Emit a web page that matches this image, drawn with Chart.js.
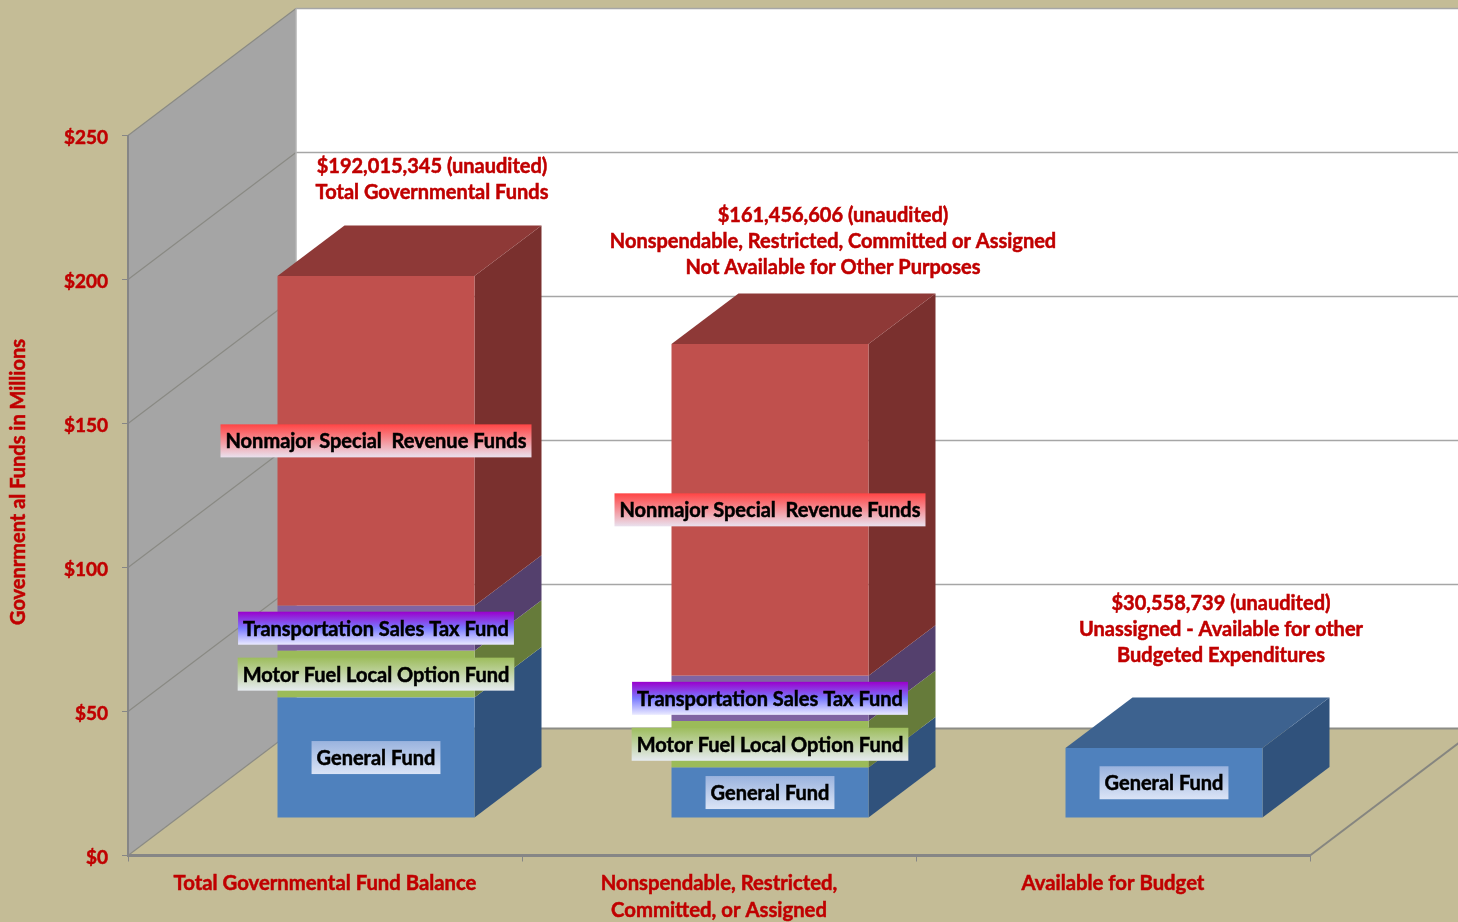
<!DOCTYPE html>
<html lang="en">
<head>
  <meta charset="UTF-8">
  <title>Governmental Funds</title>
  <script src="https://cdn.jsdelivr.net/npm/chart.js"></script>
  <style>
    html, body { margin: 0; padding: 0; background: #c4bc96; overflow: hidden; }
    canvas { display: block; }
  </style>
</head>
<body>
<canvas id="fundsChart" width="1458" height="922"></canvas>

<script>
const categories = ['Total Governmental Fund Balance', ['Nonspendable, Restricted,', 'Committed, or Assigned'], 'Available for Budget'];
const yTicks = [0, 50, 100, 150, 200, 250];
const generalFund = [41.8, 17.5, 24.3];
const motorFuel = [16.3, 16.2, null];
const transportation = [15.6, 15.7, null];
const nonmajor = [114.5, 115.2, null];
const seriesNames = ['General Fund', 'Motor Fuel Local Option Fund', 'Transportation Sales Tax Fund', 'Nonmajor Special  Revenue Funds'];
const yTitle = 'Govenrment al Funds in Millions';
const totalNotes = [
  ['$192,015,345 (unaudited)', 'Total Governmental Funds'],
  ['$161,456,606 (unaudited)', 'Nonspendable, Restricted, Committed or Assigned', 'Not Available for Other Purposes'],
  ['$30,558,739 (unaudited)', 'Unassigned - Available for other', 'Budgeted Expenditures']
];

const RED = '#c00000';
const FONT = 'Lato, sans-serif';
// 3D offsets: wall depth, bar shift from the front plane, bar depth
const WALL = { x: 168, y: 127 };
const SHIFT = { x: 51, y: 37.5 };
const BAR = { x: 67, y: 50.5 };
const faces = [
  { front: '#4f81bd', side: '#30527c', top: '#3d628f', label: ['#9ab3de', '#dbe4f6'] },
  { front: '#9bbb59', side: '#667b3a', top: '#778f45', label: ['#9dbd5c', '#e6ebf0'] },
  { front: '#8064a2', side: '#54406d', top: '#634d7f', label: ['#9a00cc', '#7a7aff', '#eaeaff'] },
  { front: '#c0504d', side: '#7a302e', top: '#8e3937', label: ['#ff4444', '#e9e1ee'] }
];
const notePos = [[432, 167], [833, 216], [1221, 604]];

function poly(ctx, pts, fill) {
  ctx.beginPath();
  pts.forEach((p, i) => i ? ctx.lineTo(p[0], p[1]) : ctx.moveTo(p[0], p[1]));
  ctx.closePath();
  ctx.fillStyle = fill;
  ctx.fill();
}

function line(ctx, x1, y1, x2, y2, color, width) {
  ctx.beginPath();
  ctx.moveTo(x1, y1);
  ctx.lineTo(x2, y2);
  ctx.strokeStyle = color;
  ctx.lineWidth = width;
  ctx.stroke();
}

function boldText(ctx, text, x, y, color) {
  ctx.fillStyle = color;
  ctx.strokeStyle = color;
  ctx.lineWidth = 0.5;
  ctx.fillText(text, x, y);
  ctx.strokeText(text, x, y);
}

const box3d = {
  id: 'box3d',
  // walls and floor, taken from the value scale
  beforeDraw(chart) {
    const { ctx, chartArea: a, scales: { y } } = chart;
    const y0 = y.getPixelForValue(0), yMax = y.getPixelForValue(250);
    ctx.save();
    poly(ctx, [[a.left + WALL.x, yMax - WALL.y], [1458, yMax - WALL.y], [1458, y0 - WALL.y], [a.left + WALL.x, y0 - WALL.y]], '#ffffff');
    poly(ctx, [[a.left, yMax], [a.left + WALL.x, yMax - WALL.y], [a.left + WALL.x, y0 - WALL.y], [a.left, y0]], '#a5a5a5');
    poly(ctx, [[a.left, y0], [a.left + WALL.x, y0 - WALL.y], [a.right + WALL.x, y0 - WALL.y], [a.right, y0]], '#c4bc96');
    y.ticks.forEach(t => {
      const py = y.getPixelForValue(t.value);
      line(ctx, a.left, py, a.left + WALL.x, py - WALL.y, '#8a8a84', 1.2);
      line(ctx, a.left + WALL.x, py - WALL.y, 1458, py - WALL.y, t.value === 0 ? '#8c8c86' : '#a6a6a6', t.value === 0 ? 2 : 1.5);
    });
    line(ctx, a.left + WALL.x, yMax - WALL.y, a.left + WALL.x, y0 - WALL.y, '#b4b4b4', 1.5);
    line(ctx, a.right, y0, a.right + WALL.x, y0 - WALL.y, '#868680', 2);
    ctx.restore();
  },
  beforeDatasetsDraw(chart) {
    const ctx = chart.ctx;
    ctx.save();
    ctx.translate(SHIFT.x, -SHIFT.y);
    chart.data.datasets.forEach((ds, i) => {
      chart.getDatasetMeta(i).data.forEach((bar, k) => {
        if (ds.data[k] == null) return;
        const { x, y, base, width } = bar.getProps(['x', 'y', 'base', 'width'], true);
        const r = x + width / 2, l = x - width / 2;
        poly(ctx, [[r, y], [r + BAR.x, y - BAR.y], [r + BAR.x, base - BAR.y], [r, base]], faces[i].side);
        const next = chart.data.datasets[i + 1];
        if (!next || next.data[k] == null) {
          poly(ctx, [[l, y], [l + BAR.x, y - BAR.y], [r + BAR.x, y - BAR.y], [r, y]], faces[i].top);
        }
      });
    });
  },
  afterDatasetsDraw(chart) {
    const ctx = chart.ctx;
    ctx.restore();
    ctx.save();
    ctx.textAlign = 'center';
    ctx.textBaseline = 'middle';
    ctx.font = '700 20px ' + FONT;
    // segment labels on the shifted bars
    chart.data.datasets.forEach((ds, i) => {
      chart.getDatasetMeta(i).data.forEach((bar, k) => {
        if (ds.data[k] == null) return;
        const { x, y, base } = bar.getProps(['x', 'y', 'base'], true);
        const cx = x + SHIFT.x, cy = (y + base) / 2 - SHIFT.y;
        const w = ctx.measureText(ds.label).width + 10, h = 33;
        const g = ctx.createLinearGradient(0, cy - h / 2, 0, cy + h / 2);
        const stops = faces[i].label;
        stops.forEach((c, n) => g.addColorStop(n / (stops.length - 1), c));
        ctx.fillStyle = g;
        ctx.fillRect(cx - w / 2, cy - h / 2, w, h);
        boldText(ctx, ds.label, cx, cy + 1, '#000000');
      });
    });
    // total notes above each bar
    totalNotes.forEach((lines, n) => {
      lines.forEach((t, j) => boldText(ctx, t, notePos[n][0], notePos[n][1] + j * 26, RED));
    });
    // value axis title
    ctx.translate(19, 482);
    ctx.rotate(-Math.PI / 2);
    boldText(ctx, yTitle, 0, 0, RED);
    ctx.restore();
  }
};

new Chart(document.getElementById('fundsChart'), {
  type: 'bar',
  plugins: [box3d],
  data: {
    labels: categories,
    datasets: [generalFund, motorFuel, transportation, nonmajor].map((d, i) => ({
      label: seriesNames[i],
      data: d,
      backgroundColor: faces[i].front,
      borderColor: '#7d8a96',
      borderWidth: i === 0 ? { bottom: 1 } : 0,
      stack: 'funds',
      categoryPercentage: 0.5,
      barPercentage: 1
    }))
  },
  options: {
    responsive: false,
    animation: false,
    layout: { padding: { top: 135.5, right: 148, left: 0, bottom: 0 } },
    plugins: { legend: { display: false }, tooltip: { enabled: false } },
    scales: {
      x: {
        stacked: true,
        afterFit: s => { s.height = 66.5; },
        grid: { drawOnChartArea: false, color: '#868686', tickLength: 6, offset: true },
        border: { color: '#868686', width: 3 },
        ticks: { color: RED, textStrokeColor: RED, textStrokeWidth: 0.5, font: { family: FONT, size: 20.3, weight: '700', lineHeight: 1.33 }, maxRotation: 0, minRotation: 0, padding: 8 }
      },
      y: {
        stacked: true,
        min: 0,
        max: 250,
        afterFit: s => { s.width = 128; },
        afterBuildTicks: s => { s.ticks = yTicks.map(v => ({ value: v })); },
        grid: { drawOnChartArea: false, color: '#868686', tickLength: 6 },
        border: { color: '#868686', width: 2 },
        ticks: { color: RED, textStrokeColor: RED, textStrokeWidth: 0.5, font: { family: FONT, size: 19, weight: '700' }, padding: 14, labelOffset: 2, callback: v => '$' + v }
      }
    }
  }
});
</script>
</body>
</html>
